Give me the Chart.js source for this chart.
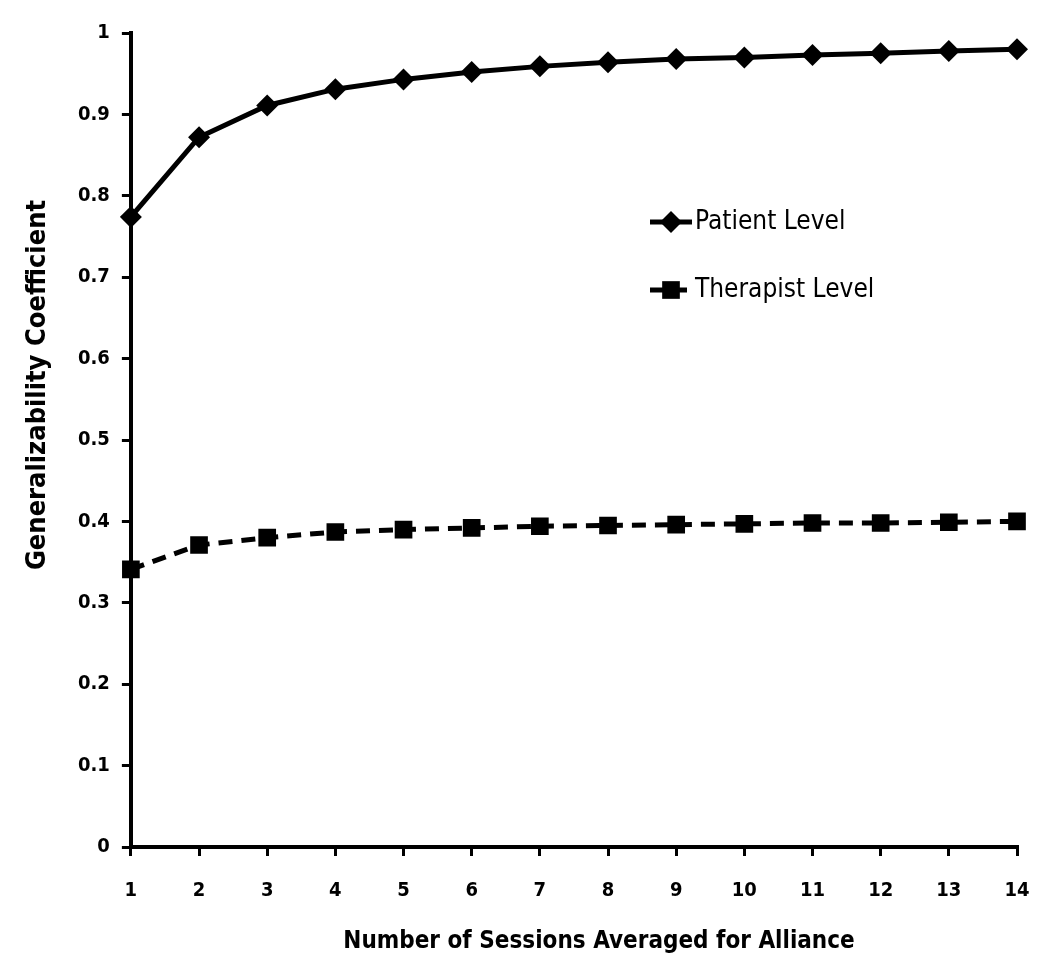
<!DOCTYPE html>
<html>
<head>
<meta charset="utf-8">
<script src="https://cdn.jsdelivr.net/npm/chart.js@4.4.1/dist/chart.umd.min.js"></script>
<style>
  html, body { margin: 0; padding: 0; background: #fff; }
  #wrap { width: 1050px; height: 975px; }
</style>
</head>
<body>
<div id="wrap"><canvas id="gChart" width="1050" height="975"></canvas></div>
<script>
// Data
const sessions = ["1", "2", "3", "4", "5", "6", "7", "8", "9", "10", "11", "12", "13", "14"];
const patientLevel = [0.774, 0.872, 0.911, 0.931, 0.943, 0.952, 0.959, 0.964, 0.968, 0.970, 0.973, 0.975, 0.978, 0.980];
const therapistLevel = [0.341, 0.371, 0.380, 0.387, 0.390, 0.392, 0.394, 0.395, 0.396, 0.397, 0.398, 0.398, 0.399, 0.400];
const yTicks = [0, 0.1, 0.2, 0.3, 0.4, 0.5, 0.6, 0.7, 0.8, 0.9, 1];
const yTitle = "Generalizability Coefficient";
const xTitle = "Number of Sessions Averaged for Alliance";

const FONT = "'DejaVu Sans Condensed', 'Liberation Sans Narrow', 'Open Sans', sans-serif";

// Legend inside the plot area + both axis titles (off-centre in the original)
const insideLegend = {
  id: "insideLegend",
  afterDraw(chart) {
    const ctx = chart.ctx;
    const items = [
      { ds: chart.data.datasets[0], x: 650, y: 222 },
      { ds: chart.data.datasets[1], x: 650, y: 290 },
    ];
    ctx.save();
    items.forEach((it) => {
      ctx.strokeStyle = "#000";
      ctx.lineWidth = 5;
      ctx.setLineDash(it.ds.borderDash || []);
      ctx.beginPath();
      ctx.moveTo(it.x, it.y);
      ctx.lineTo(it.x + 42, it.y);
      ctx.stroke();
      ctx.setLineDash([]);
      Chart.helpers.drawPoint(ctx, {
        pointStyle: it.ds.pointStyle,
        radius: it.ds.pointRadius,
        borderWidth: 0,
      }, it.x + 21, it.y);
      ctx.fillStyle = "#000";
      ctx.font = "26px " + FONT;
      ctx.textBaseline = "middle";
      ctx.textAlign = "left";
      ctx.fillText(it.ds.label, it.x + 45, it.y);
    });

    ctx.font = "bold 24px " + FONT;
    ctx.textAlign = "center";
    ctx.fillText(xTitle, 599, 942);

    ctx.translate(38, 385);
    ctx.rotate(-Math.PI / 2);
    ctx.font = "bold 27px " + FONT;
    ctx.fillText(yTitle, 0, 0);
    ctx.restore();
  },
};

new Chart(document.getElementById("gChart"), {
  type: "line",
  data: {
    labels: sessions,
    datasets: [
      {
        label: "Patient Level",
        data: patientLevel,
        borderColor: "#000",
        backgroundColor: "#000",
        borderWidth: 5,
        pointStyle: "rectRot",
        pointRadius: 11,
        pointBorderWidth: 0,
        tension: 0,
      },
      {
        label: "Therapist Level",
        data: therapistLevel,
        borderColor: "#000",
        backgroundColor: "#000",
        borderWidth: 5,
        borderDash: [14, 9],
        pointStyle: "rect",
        pointRadius: 12.5,
        pointBorderWidth: 0,
        tension: 0,
      },
    ],
  },
  options: {
    responsive: false,
    animation: false,
    layout: { padding: { top: 33, right: 33, left: 66, bottom: 49 } },
    plugins: {
      legend: { display: false },
      tooltip: { enabled: false },
    },
    scales: {
      x: {
        offset: false,
        afterFit: (scale) => {
          scale.paddingRight = 0;
        },
        border: { display: true, width: 4, color: "#000" },
        grid: { drawOnChartArea: false, drawTicks: true, tickLength: 9, lineWidth: 3, color: "#000" },
        ticks: { color: "#000", font: { family: FONT, size: 20, weight: "bold" }, padding: 23, maxRotation: 0 },
      },
      y: {
        min: 0,
        max: 1,
        afterBuildTicks: (axis) => {
          axis.ticks = yTicks.map((v) => ({ value: v }));
        },
        border: { display: true, width: 4, color: "#000" },
        grid: { drawOnChartArea: false, drawTicks: true, tickLength: 9, lineWidth: 3, color: "#000" },
        ticks: {
          color: "#000",
          font: { family: FONT, size: 20, weight: "bold" },
          padding: 12,
          callback: (v) => String(v),
        },
      },
    },
  },
  plugins: [insideLegend],
});
</script>
</body>
</html>
